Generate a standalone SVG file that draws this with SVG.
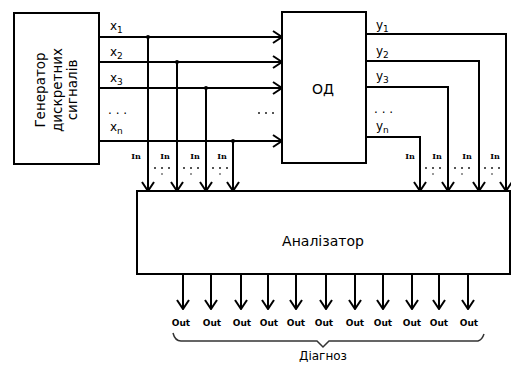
<svg xmlns="http://www.w3.org/2000/svg" width="511" height="367" viewBox="0 0 511 367">
<defs>
<marker id="arr" viewBox="0 0 11 14" refX="10" refY="7" markerWidth="11" markerHeight="14" markerUnits="userSpaceOnUse" orient="auto">
<path d="M1,1 L10,7 L1,13" fill="none" stroke="#000" stroke-width="2"/>
</marker>
<style>
.box{fill:#fff;stroke:#000;stroke-width:2}
.ar{fill:none;stroke:#000;stroke-width:2;marker-end:url(#arr)}
.dot{fill:none;stroke:#555;stroke-width:2;stroke-dasharray:2 5}
.t{font-family:"DejaVu Sans",Verdana,sans-serif;fill:#000}
.lab{font-family:"DejaVu Sans",Verdana,sans-serif;font-size:12px;fill:#000}
.in{font-family:"DejaVu Serif","Liberation Serif",serif;font-size:8px;font-weight:bold;fill:#000;text-anchor:middle}
.out{font-family:"DejaVu Sans",Verdana,sans-serif;font-size:9px;font-weight:bold;fill:#000;text-anchor:middle}
</style>
</defs>

<g id="generator">
<rect class="box" x="14" y="13" width="85" height="151"/>
<g transform="translate(56,90) rotate(-90)">
<text class="t" font-size="13.5" text-anchor="middle" dominant-baseline="central" y="-16">Генератор</text>
<text class="t" font-size="13.5" text-anchor="middle" dominant-baseline="central" y="1">дискретних</text>
<text class="t" font-size="13.5" text-anchor="middle" dominant-baseline="central" y="16">сигналів</text>
</g>
</g>

<g id="od">
<rect class="box" x="282" y="12" width="84" height="151"/>
<text class="t" font-size="14" x="323" y="94" text-anchor="middle">ОД</text>
</g>

<g id="analyzer">
<rect class="box" x="137" y="191" width="373" height="83"/>
<text class="t" font-size="14" x="323" y="246" text-anchor="middle">Аналізатор</text>
</g>

<g id="connectors">
<line class="ar" x1="99" y1="37" x2="282" y2="37"/>
<line class="ar" x1="99" y1="62" x2="282" y2="62"/>
<line class="ar" x1="99" y1="88" x2="282" y2="88"/>
<line class="ar" x1="99" y1="141" x2="282" y2="141"/>
<line class="ar" x1="148" y1="37" x2="148" y2="191"/>
<line class="ar" x1="177" y1="62" x2="177" y2="191"/>
<line class="ar" x1="206" y1="88" x2="206" y2="191"/>
<line class="ar" x1="233" y1="141" x2="233" y2="191"/>
<circle cx="148" cy="37" r="2"/>
<circle cx="177" cy="62" r="2"/>
<circle cx="206" cy="88" r="2"/>
<circle cx="233" cy="141" r="2"/>
<polyline class="ar" points="366,34 506,34 506,191"/>
<polyline class="ar" points="366,61 479,61 479,191"/>
<polyline class="ar" points="366,87 448,87 448,191"/>
<polyline class="ar" points="366,137 420,137 420,191"/>
<line class="ar" x1="183" y1="274" x2="183" y2="309"/>
<line class="ar" x1="211" y1="274" x2="211" y2="309"/>
<line class="ar" x1="241" y1="274" x2="241" y2="309"/>
<line class="ar" x1="268" y1="274" x2="268" y2="309"/>
<line class="ar" x1="296" y1="274" x2="296" y2="309"/>
<line class="ar" x1="326" y1="274" x2="326" y2="309"/>
<line class="ar" x1="355" y1="274" x2="355" y2="309"/>
<line class="ar" x1="383" y1="274" x2="383" y2="309"/>
<line class="ar" x1="412" y1="274" x2="412" y2="309"/>
<line class="ar" x1="439" y1="274" x2="439" y2="309"/>
<line class="ar" x1="468" y1="274" x2="468" y2="309"/>
<path d="M173,333 Q175,341 181,341 L317,341 L323,347 L329,341 L478,341 Q482,340 484,334" fill="none" stroke="#333" stroke-width="1.5"/>
<line class="dot" x1="154" y1="168" x2="170" y2="168"/>
<line class="dot" x1="183" y1="168" x2="199" y2="168"/>
<line class="dot" x1="212" y1="168" x2="228" y2="168"/>
<line class="dot" x1="425" y1="168" x2="441" y2="168"/>
<line class="dot" x1="454" y1="168" x2="470" y2="168"/>
<line class="dot" x1="484" y1="168" x2="500" y2="168"/>
<g fill="#777">
<circle cx="162" cy="174" r="1"/><circle cx="191" cy="174" r="1"/><circle cx="220" cy="174" r="1"/>
<circle cx="433" cy="174" r="1"/><circle cx="462" cy="174" r="1"/><circle cx="492" cy="174" r="1"/>
</g>
<line class="dot" x1="258" y1="113" x2="274" y2="113"/>
</g>

<g id="labels">
<text class="lab" x="110" y="30">x<tspan font-size="9" dy="3">1</tspan></text>
<text class="lab" x="110" y="56">x<tspan font-size="9" dy="3">2</tspan></text>
<text class="lab" x="110" y="82">x<tspan font-size="9" dy="3">3</tspan></text>
<text class="lab" x="108" y="114">. . .</text>
<text class="lab" x="110" y="131">x<tspan font-size="9" dy="3">n</tspan></text>
<text class="lab" x="376" y="29">y<tspan font-size="9" dy="3">1</tspan></text>
<text class="lab" x="376" y="55">y<tspan font-size="9" dy="3">2</tspan></text>
<text class="lab" x="376" y="80">y<tspan font-size="9" dy="3">3</tspan></text>
<text class="lab" x="374" y="113">. . .</text>
<text class="lab" x="376" y="130">y<tspan font-size="9" dy="3">n</tspan></text>
<text class="in" x="136" y="159">In</text>
<text class="in" x="165" y="159">In</text>
<text class="in" x="195" y="159">In</text>
<text class="in" x="222" y="159">In</text>
<text class="in" x="410" y="159">In</text>
<text class="in" x="437" y="159">In</text>
<text class="in" x="467" y="159">In</text>
<text class="in" x="495" y="159">In</text>
<text class="out" x="181" y="326">Out</text>
<text class="out" x="212" y="326">Out</text>
<text class="out" x="242" y="326">Out</text>
<text class="out" x="269" y="326">Out</text>
<text class="out" x="296" y="326">Out</text>
<text class="out" x="324" y="326">Out</text>
<text class="out" x="355" y="326">Out</text>
<text class="out" x="383" y="326">Out</text>
<text class="out" x="412" y="326">Out</text>
<text class="out" x="439" y="326">Out</text>
<text class="out" x="469" y="326">Out</text>
<text class="t" font-size="12" x="323" y="360" text-anchor="middle">Діагноз</text>
</g>
</svg>
